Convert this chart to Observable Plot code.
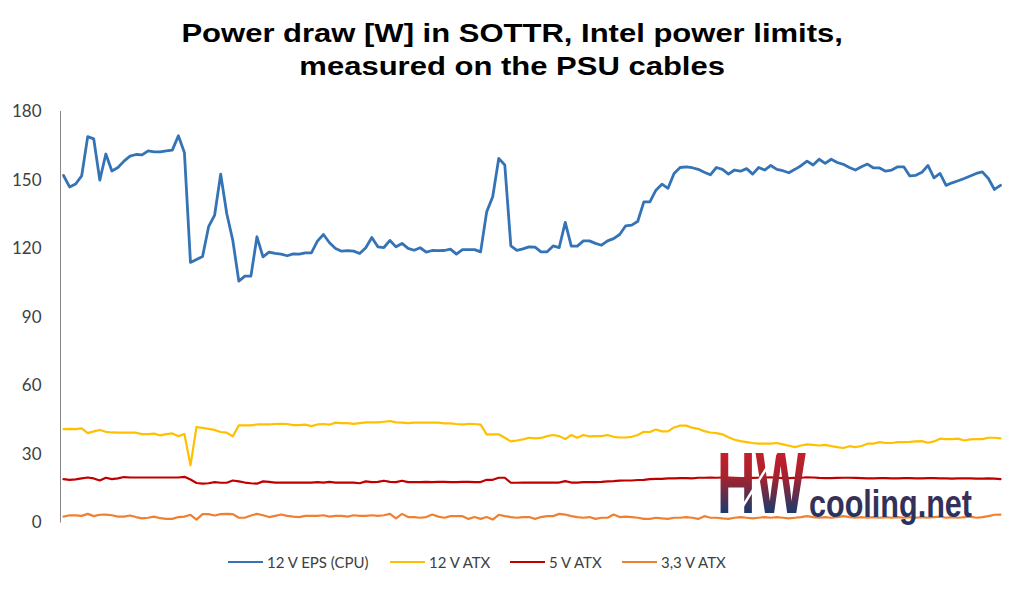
<!DOCTYPE html>
<html>
<head>
<meta charset="utf-8">
<script src="https://cdn.jsdelivr.net/npm/d3@7"></script>
<script src="https://cdn.jsdelivr.net/npm/@observablehq/plot@0.6"></script>
<style>
  html, body { margin: 0; padding: 0; background: #fff; }
  #wrap { position: relative; width: 1024px; height: 591px; overflow: hidden; }
  #title { position: absolute; left: 0; top: 17px; width: 1024px; text-align: center;
    font-family: "Liberation Sans", Arial, sans-serif; font-weight: bold; font-size: 26.5px; line-height: 32.6px; color: #000;
    transform: scaleX(1.17); transform-origin: 511px 0; }
  #chart { position: absolute; left: 0; top: 90px; }
  #legend { position: absolute; left: 0; top: 551px; width: 1024px; height: 22px;
    font-family: Lato, sans-serif; font-size: 15px; color: #404040; }
  .item { position: absolute; top: 0; height: 22px; display: flex; align-items: center; }
  .sw { width: 35px; height: 2.5px; margin-right: 4px; }
  #logo { position: absolute; left: 0; top: 0; pointer-events: none; }
</style>
</head>
<body>
<div id="wrap">
  <div id="title">Power draw [W] in SOTTR, Intel power limits,<br>measured on the PSU cables</div>
  <div id="chart"></div>
  <div id="legend"></div>
  <svg id="logo" width="1024" height="591">
    <defs>
      <linearGradient id="gH" x1="0" y1="0" x2="0" y2="1">
        <stop offset="0" stop-color="#e31e26"/>
        <stop offset="0.45" stop-color="#a3222f"/>
        <stop offset="0.8" stop-color="#1d3a6b"/>
        <stop offset="1" stop-color="#1d3a6b"/>
      </linearGradient>
      <linearGradient id="gC" x1="0" y1="0" x2="0" y2="1">
        <stop offset="0" stop-color="#4b2c4e"/>
        <stop offset="1" stop-color="#1d3563"/>
      </linearGradient>
    </defs>
    <text transform="translate(717,513) scale(0.74,1)" x="0" y="0" font-family="Liberation Sans Narrow, Liberation Sans, sans-serif" font-weight="bold" font-size="88" fill="url(#gH)" textLength="120" lengthAdjust="spacingAndGlyphs">HW</text>
    <text x="809" y="517" font-family="Liberation Sans Narrow, Liberation Sans, sans-serif" font-weight="bold" font-size="39" fill="url(#gC)" textLength="163" lengthAdjust="spacingAndGlyphs">cooling.net</text>
    <line x1="779" y1="448" x2="738" y2="514" stroke="#fff" stroke-width="2.5"/>
  </svg>
</div>
<script>
const seriesNames = ["12 V EPS (CPU)", "12 V ATX", "5 V ATX", "3,3 V ATX"];
const seriesColors = ["#3473b5", "#ffc000", "#c00000", "#f08030"];
const yTicks = [0, 30, 60, 90, 120, 150, 180];

const eps12 = [152,147,148.3,151.8,169,168,150,161.4,154,155.5,158.3,160.5,161.2,161,162.8,162.3,162.3,162.8,163.1,169.4,
162,114,115.3,116.6,129.6,134.7,152.6,135.4,123.7,105.8,108,108,125.2,116.4,118.5,117.9,117.6,116.9,117.7,117.6,
118.2,118.2,123.3,126.2,122.6,120.1,118.9,119.1,118.9,117.9,120.4,124.9,120.8,120.5,123.6,120.8,122.3,120.1,119.3,120.4,
118.5,119.2,119.1,119.2,119.8,117.6,119.6,119.6,119.6,118.6,136.1,142.7,159.5,156.6,121.2,119.3,119.9,120.8,120.7,118.6,
118.6,121.2,120.5,131.5,121.1,121.1,123.4,123.4,122.3,121.5,123.4,124.4,126.2,130,130.3,132,140.5,140.5,145.6,148.2,
146.4,152.9,155.5,155.8,155.4,154.7,153.4,152.3,155.5,154.7,152.6,154.4,153.9,155,152.6,155.5,154.4,156.4,154.7,154.1,
153.2,154.7,156.3,158.3,156.6,159.1,157.3,159.1,157.7,156.9,155.5,154.4,155.8,157,155.3,155.3,153.9,154.4,155.8,155.8,
151.8,152.1,153.4,156.4,151,152.9,147.7,148.8,149.7,150.7,151.8,152.9,153.6,150.7,145.9,147.7];

const atx12 = [41.1,41.2,41.1,41.4,39.3,40.1,40.7,39.9,39.6,39.5,39.5,39.5,39.5,38.9,38.9,39.1,38.3,38.9,39.2,38.0,
38.9,25.2,42.0,41.6,41.2,40.7,39.8,39.5,37.9,42.7,42.7,42.7,43.1,43.1,43.1,43.3,43.4,43.3,42.8,42.8,
43.0,42.4,43.1,43.3,43.0,43.9,43.7,43.7,43.4,43.7,44.0,44.0,44.0,44.3,44.6,44.0,43.9,43.7,43.9,43.9,
43.9,43.9,43.9,43.6,43.6,43.3,43.1,43.4,43.3,43.0,38.8,38.8,38.8,37.3,35.7,36.1,36.6,37.3,37.0,37.2,
38.0,38.5,38.0,36.7,38.5,37.3,38.5,37.9,38.0,38.0,38.5,37.7,37.4,37.4,37.7,38.5,39.9,39.8,40.9,40.1,
40.1,41.8,42.6,42.6,41.7,41.2,40.2,39.6,39.3,38.8,37.5,36.4,35.8,35.4,35.0,34.7,34.7,34.7,35.0,34.4,
33.8,33.2,33.9,34.4,34.2,33.9,34.2,33.6,33.2,32.8,33.6,33.2,33.7,34.7,34.7,35.4,35.0,35.0,35.4,35.4,
35.5,35.7,35.8,35.1,35.7,36.9,36.7,36.7,36.9,36.1,36.6,36.7,36.7,37.3,37.3,37.0];

const atx5 = [19.2,18.9,19.1,19.5,19.9,19.5,18.6,19.8,19.2,19.5,20.1,19.9,19.9,19.9,19.9,19.9,19.9,19.9,19.9,19.9,
20.2,19.0,17.5,17.2,17.4,17.9,17.6,17.6,18.6,18.2,17.7,17.4,17.2,18.2,18.0,17.7,17.7,17.7,17.7,17.7,
17.7,17.7,17.9,17.7,18.0,17.7,17.7,17.7,17.7,17.4,18.2,17.9,18.0,18.5,18.0,17.9,18.5,17.9,17.9,17.9,
18.0,17.9,18.0,18.0,17.9,17.9,18.0,18.0,17.9,17.9,18.9,18.9,19.8,19.8,17.6,17.6,17.7,17.7,17.7,17.7,
17.7,17.7,17.7,18.3,17.7,17.7,17.9,17.9,17.9,18.0,18.2,18.3,18.5,18.6,18.6,18.8,18.9,19.2,19.3,19.3,
19.5,19.5,19.6,19.6,19.5,19.8,19.8,19.9,19.8,19.9,19.9,19.8,19.6,19.6,19.7,19.8,19.9,20.0,19.8,19.6,
19.6,19.7,19.8,20.0,19.9,19.7,19.6,19.6,19.7,19.8,19.8,19.7,19.6,19.5,19.5,19.6,19.6,19.5,19.5,19.6,
19.6,19.5,19.5,19.6,19.6,19.5,19.5,19.4,19.5,19.5,19.5,19.4,19.4,19.5,19.4,19.2];

const atx33 = [2.8,3.4,3.3,3.1,4.0,3.0,3.6,3.7,3.4,2.8,2.8,3.3,2.6,2.0,2.3,2.8,2.1,1.8,1.8,2.6,
2.8,3.6,1.5,3.9,3.9,3.3,3.9,4.0,3.9,2.3,2.3,3.3,4.0,3.4,2.6,3.1,3.7,3.1,2.8,2.6,
3.1,3.1,3.1,3.4,2.8,3.1,3.1,2.8,3.4,3.1,3.1,3.4,3.1,3.4,4.0,2.0,4.0,2.6,2.6,2.3,
2.6,3.7,2.8,2.3,3.0,3.0,3.0,1.8,2.6,1.8,2.6,1.5,3.6,3.0,2.6,2.3,2.6,2.6,1.8,2.6,
3.0,3.0,4.0,3.7,3.0,2.6,2.3,2.6,1.8,2.3,2.3,3.7,2.6,2.8,2.6,2.3,1.8,1.8,2.3,2.0,
1.8,2.3,2.3,2.6,2.3,1.8,3.0,2.3,2.3,2.0,1.8,2.3,2.6,2.3,2.0,2.3,2.6,2.3,2.6,2.3,
2.0,2.3,2.6,3.0,2.6,2.3,2.6,2.3,2.6,3.0,2.6,2.3,2.6,2.3,2.6,2.3,2.6,2.3,2.6,2.3,
2.6,2.3,2.6,2.3,2.6,2.8,2.3,2.6,2.3,2.6,2.8,2.3,2.6,3.0,3.6,3.7];

const seriesValues = [eps12, atx12, atx5, atx33];
const widths = [2.8, 2.2, 2.2, 2.2];

const rows = [];
seriesValues.forEach((vals, k) => vals.forEach((v, i) => rows.push({i: i + 1, v, s: seriesNames[k]})));

const chart = Plot.plot({
  width: 1024,
  height: 450,
  marginLeft: 60,
  marginRight: 21,
  marginTop: 21,
  marginBottom: 17.5,
  style: {fontFamily: "Lato, sans-serif", fontSize: "17px", color: "#404040", background: "transparent"},
  x: {domain: [0.5, eps12.length + 0.5], axis: null},
  y: {domain: [0, 180], ticks: yTicks, tickSize: 0, tickPadding: 19, label: null},
  color: {domain: seriesNames, range: seriesColors},
  marks: [
    Plot.ruleX([0.5], {y1: 0, y2: 180, stroke: "#868686", strokeWidth: 1}),
    ...seriesNames.map((name, k) => Plot.lineY(rows.filter(r => r.s === name), {
      x: "i", y: "v", stroke: "s", strokeWidth: widths[k], strokeLinejoin: "round", strokeLinecap: "round"
    }))
  ]
});
document.getElementById("chart").appendChild(chart);

const legendX = [[228, 266], [390, 428], [510, 548], [622, 660]];
const legend = document.getElementById("legend");
seriesNames.forEach((name, k) => {
  const it = document.createElement("div");
  it.className = "item";
  it.style.left = legendX[k][0] + "px";
  const sw = document.createElement("div");
  sw.className = "sw";
  sw.style.background = seriesColors[k];
  const tx = document.createElement("span");
  tx.textContent = name;
  it.appendChild(sw);
  it.appendChild(tx);
  legend.appendChild(it);
});
</script>
</body>
</html>
